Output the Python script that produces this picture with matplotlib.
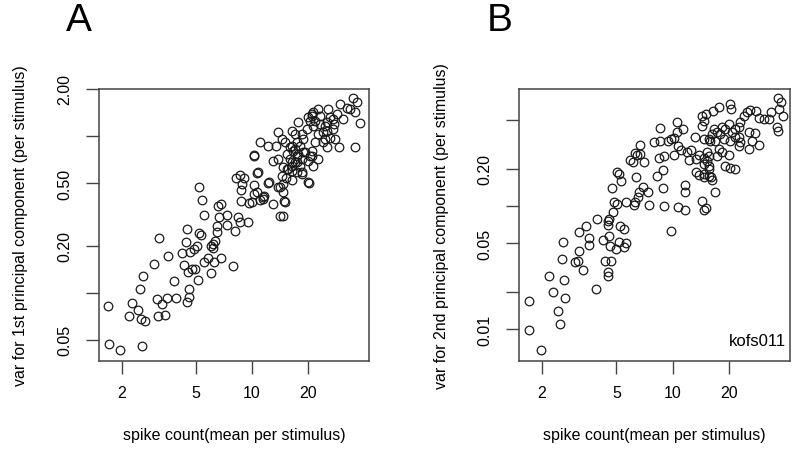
import numpy as np
import matplotlib
matplotlib.use('Agg')
import matplotlib.pyplot as plt
from matplotlib.ticker import FixedLocator, FixedFormatter, NullLocator

plt.rcParams['font.family'] = ['Liberation Sans', 'DejaVu Sans']

# panel A: spike count vs variance of 1st principal component
a_count = [1.69, 1.71, 1.96, 2.57, 2.19, 2.27, 2.45, 2.54, 2.67, 2.51, 2.60, 2.98, 3.17, 3.55, 3.10,
           3.29, 3.51, 3.13, 3.42, 3.82, 3.92, 4.49, 4.43, 4.22, 4.33, 4.54, 4.60, 4.60, 4.49, 5.14,
           4.95, 4.77, 5.21, 5.34, 5.08, 4.90, 4.66, 5.54, 6.04, 5.82, 6.19, 6.19, 6.35, 6.04, 6.27,
           6.84, 6.50, 6.50, 7.93, 7.36, 8.13, 8.65, 9.55, 5.21, 5.41, 5.54, 6.59, 6.84, 6.67, 7.36,
           8.43, 8.23, 8.65, 9.09, 8.87, 8.75, 10.2, 10.7, 10.2, 10.3, 11.1, 12.2, 13.5, 13.0, 13.8,
           12.4, 13.8, 8.75, 9.66, 10.0, 10.3, 10.7, 11.4, 11.5, 11.6, 11.1, 13.0, 14.2, 13.8, 15.1,
           14.5, 17.7, 20.1, 21.1, 21.3, 19.8, 16.5, 17.1, 18.9, 17.5, 16.1, 16.7, 15.5, 17.7, 19.3,
           21.1, 21.3, 20.1, 16.1, 17.1, 18.2, 14.7, 15.5, 16.5, 17.5, 14.5, 15.3, 16.5, 14.7, 18.6,
           20.1, 12.2, 14.2, 14.7, 15.1, 14.7, 35.0, 36.8, 35.9, 32.5, 33.7, 38.2, 35.9, 29.4, 25.7,
           28.7, 27.4, 26.4, 25.4, 24.2, 25.4, 27.4, 27.7, 26.4, 24.2, 25.4, 22.7, 21.9, 21.3, 21.1,
           20.6, 21.9, 23.3, 23.3, 18.6, 21.1, 22.7, 20.6, 16.5, 17.1, 18.2, 18.9, 17.5, 16.5, 15.7,
           16.5, 17.5, 18.6, 20.3, 18.6, 14.9, 10.8, 29.8, 31.0, 22.7, 24.8, 28.0, 24.8]
a_var = [0.082, 0.047, 0.043, 0.046, 0.071, 0.086, 0.077, 0.068, 0.066, 0.106, 0.128, 0.153, 0.224,
         0.172, 0.091, 0.085, 0.093, 0.071, 0.072, 0.119, 0.093, 0.255, 0.211, 0.179, 0.150, 0.136,
         0.106, 0.094, 0.087, 0.121, 0.142, 0.142, 0.241, 0.234, 0.199, 0.190, 0.182, 0.157, 0.134,
         0.167, 0.193, 0.205, 0.214, 0.199, 0.157, 0.167, 0.244, 0.267, 0.148, 0.271, 0.248, 0.283,
         0.283, 0.473, 0.391, 0.313, 0.358, 0.369, 0.305, 0.313, 0.305, 0.540, 0.565, 0.540, 0.495,
         0.453, 0.488, 0.581, 0.758, 0.747, 0.917, 0.870, 0.865, 0.693, 0.714, 0.510, 0.473, 0.385,
         0.374, 0.380, 0.427, 0.440, 0.409, 0.397, 0.415, 0.391, 0.369, 0.309, 1.06, 0.917, 0.959,
         1.23, 1.33, 1.38, 1.16, 1.11, 1.08, 1.03, 0.959, 0.917, 0.852, 0.804, 0.769, 0.769, 0.792,
         0.747, 0.645, 0.693, 0.714, 0.684, 0.645, 0.635, 0.617, 0.599, 0.590, 0.556, 0.540, 0.525,
         0.495, 0.573, 0.510, 0.502, 0.473, 0.440, 0.380, 0.309, 1.75, 1.65, 1.43, 1.51, 1.49, 1.21,
         0.852, 0.852, 1.49, 1.38, 1.29, 1.33, 1.23, 1.06, 1.08, 1.11, 1.20, 0.973, 0.917, 0.852,
         1.03, 0.917, 1.43, 1.34, 1.25, 1.25, 1.34, 1.20, 1.03, 0.804, 0.714, 0.747, 0.865, 0.828,
         0.865, 0.792, 0.747, 0.684, 0.617, 0.645, 0.684, 0.714, 0.502, 0.590, 0.385, 0.590, 1.60,
         1.29, 1.49, 0.959, 0.959, 1.16]

# panel B: spike count vs variance of 2nd principal component
b_count = [1.70, 1.70, 1.97, 2.18, 2.29, 2.44, 2.50, 2.66, 2.63, 2.57, 2.60, 3.02, 3.13, 3.17, 3.17,
           3.33, 3.42, 3.55, 3.55, 3.87, 3.92, 4.22, 4.33, 4.66, 4.49, 4.49, 4.60, 4.55, 4.49, 4.78,
           5.21, 5.48, 5.15, 5.62, 4.96, 5.48, 9.84, 4.55, 4.84, 5.02, 5.62, 5.02, 5.15, 5.28, 4.72,
           6.37, 6.94, 7.39, 8.90, 6.53, 6.28, 6.21, 7.48, 9.02, 10.7, 11.6, 14.8, 14.3, 15.0, 16.8,
           11.6, 11.6, 5.90, 6.13, 6.28, 6.69, 6.69, 7.03, 7.96, 8.58, 8.58, 9.48, 8.47, 9.02, 8.90,
           8.26, 10.6, 10.5, 10.2, 9.84, 11.3, 13.1, 14.3, 15.0, 14.8, 14.3, 14.8, 15.6, 10.7, 11.1,
           12.0, 12.5, 13.9, 12.3, 15.2, 15.2, 15.6, 13.4, 13.9, 14.8, 15.6, 36.8, 37.8, 37.2, 39.2,
           36.3, 36.8, 33.7, 32.9, 30.9, 29.0, 28.0, 26.0, 25.0, 24.1, 20.2, 20.5, 17.7, 16.4, 22.9,
           22.6, 21.5, 20.7, 20.0, 19.0, 18.3, 17.9, 17.2, 16.6, 16.2, 15.8, 16.8, 18.8, 20.2, 21.5,
           22.6, 25.6, 27.6, 26.6, 25.6, 29.0, 22.9, 22.6, 17.7, 18.3, 20.0, 17.2, 15.6, 14.8, 13.4,
           14.7, 15.6, 19.0, 20.2, 21.5, 16.0, 16.2, 14.7, 6.44, 6.61, 10.2, 4.49]
b_var = [0.017, 0.0098, 0.0067, 0.027, 0.020, 0.014, 0.011, 0.018, 0.025, 0.037, 0.051, 0.035, 0.036,
         0.043, 0.0615, 0.030, 0.069, 0.055, 0.048, 0.021, 0.078, 0.053, 0.036, 0.036, 0.029, 0.027,
         0.047, 0.057, 0.070, 0.089, 0.069, 0.065, 0.051, 0.050, 0.045, 0.046, 0.063, 0.078, 0.108,
         0.104, 0.108, 0.189, 0.182, 0.160, 0.140, 0.172, 0.143, 0.130, 0.140, 0.118, 0.108, 0.102,
         0.102, 0.100, 0.098, 0.093, 0.093, 0.110, 0.096, 0.130, 0.148, 0.130, 0.237, 0.228, 0.270,
         0.265, 0.313, 0.228, 0.331, 0.431, 0.338, 0.338, 0.246, 0.255, 0.196, 0.175, 0.482, 0.400,
         0.357, 0.351, 0.423, 0.364, 0.540, 0.560, 0.491, 0.447, 0.351, 0.351, 0.308, 0.285, 0.275,
         0.285, 0.260, 0.237, 0.275, 0.232, 0.211, 0.189, 0.179, 0.172, 0.175, 0.755, 0.702, 0.615,
         0.540, 0.439, 0.407, 0.581, 0.510, 0.510, 0.520, 0.592, 0.604, 0.581, 0.540, 0.675, 0.615,
         0.638, 0.592, 0.482, 0.439, 0.423, 0.400, 0.465, 0.423, 0.439, 0.385, 0.400, 0.423, 0.385,
         0.338, 0.338, 0.351, 0.338, 0.364, 0.364, 0.400, 0.392, 0.338, 0.291, 0.313, 0.331, 0.308,
         0.291, 0.275, 0.260, 0.255, 0.255, 0.246, 0.241, 0.220, 0.200, 0.211, 0.204, 0.200, 0.172,
         0.163, 0.182, 0.260, 0.130, 0.260, 0.075]

x_ticks = [2, 5, 10, 20]
a_yticks = [0.05, 0.1, 0.2, 0.5, 1, 2]
a_ylabels = ['0.05', '', '0.20', '0.50', '', '2.00']
b_yticks = [0.01, 0.02, 0.05, 0.1, 0.2, 0.5]
b_ylabels = ['0.01', '', '0.05', '', '0.20', '']

fig = plt.figure(figsize=(8, 4.64), dpi=100)
axA = fig.add_axes([0.124, 0.2205, 0.3375, 0.5856])
axB = fig.add_axes([0.649, 0.2205, 0.339, 0.5856])

edge = '#444444'


def style(ax, xs, ys, yticks, ylabels, ylim, ylabel):
    ax.plot(xs, ys, 'o', mfc='none', mec='#1a1a1a', ms=6.2, mew=0.9)
    ax.set_xscale('log')
    ax.set_yscale('log')
    ax.set_xlim(1.51, 42.7)
    ax.set_ylim(*ylim)
    ax.xaxis.set_major_locator(FixedLocator(x_ticks))
    ax.xaxis.set_major_formatter(FixedFormatter([str(t) for t in x_ticks]))
    ax.xaxis.set_minor_locator(NullLocator())
    ax.yaxis.set_major_locator(FixedLocator(yticks))
    ax.yaxis.set_major_formatter(FixedFormatter(ylabels))
    ax.yaxis.set_minor_locator(NullLocator())
    for s in ax.spines.values():
        s.set_color(edge)
        s.set_linewidth(1.1)
    ax.tick_params(direction='out', length=9.5, width=1.0, color=edge, labelsize=11.5)
    ax.tick_params(axis='x', pad=8)
    ax.tick_params(axis='y', pad=10)
    for lab in ax.get_yticklabels():
        lab.set_rotation(90)
        lab.set_rotation_mode('anchor')
        lab.set_ha('center')
        lab.set_va('bottom')
    ax.set_xlabel('spike count(mean per stimulus)', fontsize=11.5)
    ax.xaxis.set_label_coords(0.5, -0.245)
    ax.set_ylabel(ylabel, fontsize=11.5)


style(axA, a_count, a_var, a_yticks, a_ylabels, (0.0368, 2.0),
      'var for 1st principal component (per stimulus)')
style(axB, b_count, b_var, b_yticks, b_ylabels, (0.00552, 0.893),
      'var for 2nd principal component (per stimulus)')
axA.yaxis.set_label_coords(-0.265, 0.5)
axB.yaxis.set_label_coords(-0.26, 0.5)

axB.text(0.985, 0.045, 'kofs011', transform=axB.transAxes, ha='right', va='bottom', fontsize=12)

fig.text(0.098, 0.955, 'A', fontsize=28, ha='center', va='center')
fig.text(0.624, 0.955, 'B', fontsize=28, ha='center', va='center')

fig.savefig('out.png', dpi=100)
